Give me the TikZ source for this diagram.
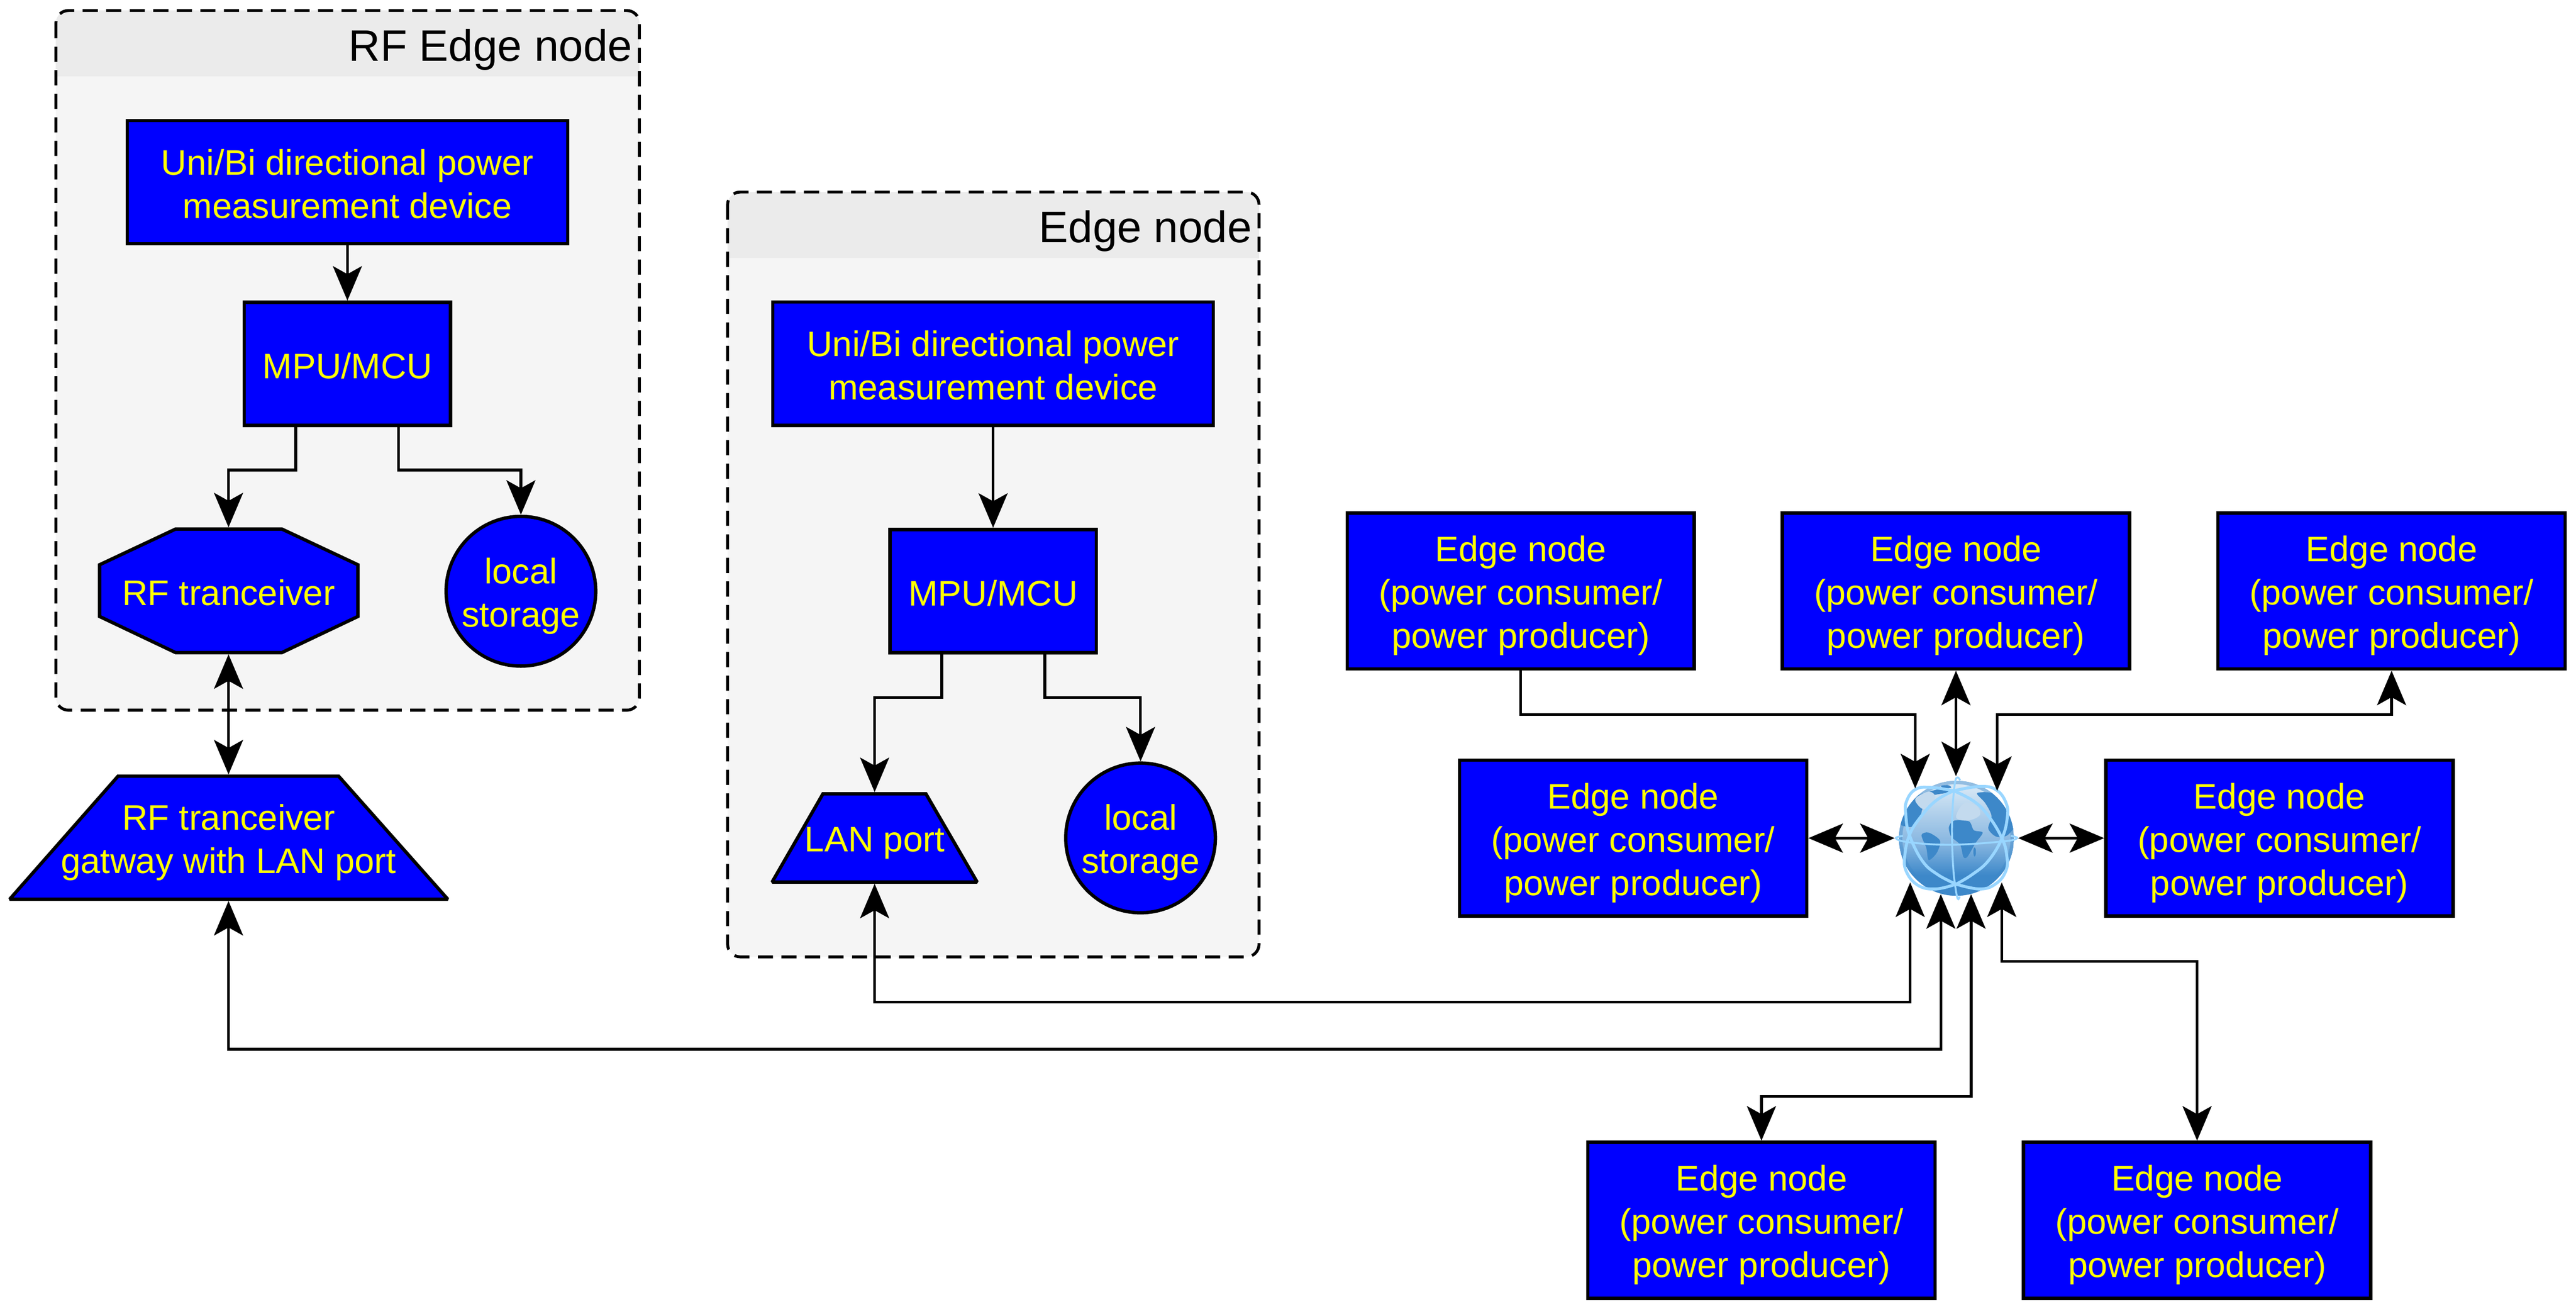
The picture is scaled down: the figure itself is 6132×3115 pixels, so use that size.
\documentclass[tikz,border=0pt]{standalone}
\usepackage{fontspec}
\setmainfont{Liberation Sans}
\usetikzlibrary{arrows.meta,calc}
\definecolor{nodeblue}{RGB}{0,0,255}
\definecolor{nodeyellow}{RGB}{255,255,0}
\definecolor{panelbg}{RGB}{245,245,245}
\definecolor{panelhead}{RGB}{235,235,235}
\definecolor{globering}{RGB}{153,214,255}
\definecolor{globeland}{RGB}{61,136,201}
\definecolor{globepale}{RGB}{195,218,238}
\definecolor{globetop}{RGB}{222,236,247}
\definecolor{globemid}{RGB}{135,182,224}
\newcommand{\st}{\rule[-4pt]{0pt}{27.7pt}}
\newcommand{\edgetext}{\st Edge node\\\st (power consumer/\\\st power producer)}
\newcommand{\meastext}{\st Uni/Bi directional power\\\st measurement device}
\newcommand{\storetext}{\st local\\\st storage}
\tikzset{
  bodyfont/.style={font=\fontsize{24}{29.3}\selectfont},
  box/.style={draw=black,fill=nodeblue,line width=0.08cm,text=nodeyellow,inner sep=0pt,align=center,bodyfont},
  edgebox/.style={box,minimum width=8.26cm,minimum height=3.71cm},
  measbox/.style={box,minimum width=10.48cm,minimum height=2.93cm},
  mpubox/.style={box,minimum width=4.91cm,minimum height=2.93cm},
  storebox/.style={box,circle,minimum size=3.56cm},
  outline/.style={draw=black,fill=nodeblue,line width=0.08cm,miter limit=1.9},
  overlay text/.style={box,draw=none,fill=none},
  wire/.style={line width=0.065cm,draw=black},
  arr/.style={wire,-{Stealth[length=0.82cm,width=0.69cm,inset=0.19cm]}},
  bi/.style={wire,{Stealth[length=0.82cm,width=0.69cm,inset=0.19cm]}-{Stealth[length=0.82cm,width=0.69cm,inset=0.19cm]}},
  panel/.style={draw=black,line width=0.07cm,dash pattern=on 0.36cm off 0.20cm,rounded corners=0.3cm},
  paneltitle/.style={font=\fontsize{29.8}{36}\selectfont,text=black,inner sep=0pt},
  ringthick/.style={draw=globering,line width=0.07cm},
  ringthin/.style={draw=globering,line width=0.045cm},
}
\begin{document}
\begin{tikzpicture}[x=0.01cm,y=-0.01cm]
\useasboundingbox (0,0) rectangle (6132,3115);
\fill[white] (0,0) rectangle (6132,3115);

% panels
\fill[panelbg,rounded corners=0.3cm] (133,25) rectangle (1522,1690);
\fill[panelhead,rounded corners=0.3cm] (133,182) [sharp corners] -- (133,182) [rounded corners=0.3cm] -- (133,25) -- (1522,25) [sharp corners] -- (1522,182) -- cycle;
\draw[panel] (133,25) rectangle (1522,1690);
\node[paneltitle,anchor=base east] (rftitle) at (1506,145) {RF Edge node};

\fill[panelbg,rounded corners=0.3cm] (1732,457) rectangle (2997,2277);
\fill[panelhead,rounded corners=0.3cm] (1732,614) [sharp corners] -- (1732,614) [rounded corners=0.3cm] -- (1732,457) -- (2997,457) [sharp corners] -- (2997,614) -- cycle;
\draw[panel] (1732,457) rectangle (2997,2277);
\node[paneltitle,anchor=base east] (edgetitle) at (2981,577) {Edge node};

% RF edge node contents
\node[measbox] (rfmeas) at (827,433.5) {\meastext};
\node[mpubox] (rfmpu) at (827,866) {\st MPU/MCU};
\draw[outline] (418,1259) -- (671,1259) -- (852,1344) -- (852,1467) -- (671,1553) -- (418,1553) -- (237,1467) -- (237,1344) -- cycle;
\node[overlay text,minimum width=6.15cm,minimum height=2.94cm] (rfoct) at (544,1406) {\st RF tranceiver};
\node[storebox] (rfstore) at (1240,1407) {\storetext};
\draw[outline] (281,1847) -- (806,1847) -- (1066,2140) -- (23,2140) -- cycle;
\node[overlay text,minimum width=10.43cm,minimum height=2.93cm] (gateway) at (544,1993.5) {\st RF tranceiver\\\st gatway with LAN port};

% Edge node contents
\node[measbox] (emeas) at (2364,865.5) {\meastext};
\node[mpubox] (empu) at (2364,1406.5) {\st MPU/MCU};
\draw[outline] (1959,1889) -- (2204,1889) -- (2326,2099) -- (1838,2099) -- cycle;
\node[overlay text,minimum width=4.88cm,minimum height=2.10cm] (lan) at (2082,1994) {\st LAN port};
\node[storebox] (estore) at (2715,1994) {\storetext};

% edge nodes around the globe
\node[edgebox] (et1) at (3620,1406.5) {\edgetext};
\node[edgebox] (et2) at (4656,1406.5) {\edgetext};
\node[edgebox] (et3) at (5693,1406.5) {\edgetext};
\node[edgebox] (em1) at (3887.5,1994.5) {\edgetext};
\node[edgebox] (em2) at (5426,1994.5) {\edgetext};
\node[edgebox] (eb1) at (4193,2904) {\edgetext};
\node[edgebox] (eb2) at (5230,2904) {\edgetext};

% globe
\node[circle,minimum size=2.74cm,inner sep=0pt] (globe) at (4657,1994) {};
\begin{scope}[shift={(4300,1650)},x=0.003827cm,y=-0.003827cm]
  \begin{scope}
    \clip (932,900) circle (357);
    \fill[globeland] (575,543) rectangle (1289,1257);
    \shade[top color=globetop,bottom color=globemid] (575,543) rectangle (1289,930);
    \shade[top color=globemid,bottom color=globeland] (575,930) rectangle (1289,1130);
    \draw[globeland,opacity=0.45,line width=0.16cm] (932,900) circle (357);
    \fill[globeland] plot[smooth cycle,tension=0.5] coordinates {(885,830) (920,790) (1010,795) (1040,850) (1095,865) (1050,930) (1000,1015) (975,1015) (955,940) (900,890)};
    \fill[globeland] (1045,985) ellipse (8 and 28);
    \fill[globeland] plot[smooth cycle,tension=0.5] coordinates {(715,880) (760,865) (830,915) (810,990) (760,1035) (745,960)};
    \fill[globeland] plot[smooth cycle,tension=0.5] coordinates {(640,680) (700,630) (850,590) (880,615) (770,640) (720,720) (705,780) (650,830) (560,800) (590,700)};
    \fill[globeland] plot[smooth cycle,tension=0.5] coordinates {(1060,620) (1160,620) (1240,680) (1300,800) (1250,880) (1180,890) (1130,840) (1150,760) (1110,680)};
    \fill[globeland] plot[smooth cycle,tension=0.5] coordinates {(835,575) (880,570) (900,585) (860,590)};
    \fill[globepale] plot[smooth cycle,tension=0.6] coordinates {(680,650) (760,610) (800,640) (770,690) (730,720) (690,690)};
    \fill[globepale] plot[smooth cycle,tension=0.6] coordinates {(930,770) (960,700) (1000,680) (1060,700) (1080,750) (1040,780) (980,790)};
  \end{scope}
  \draw[ringthick] plot[smooth,tension=0.7] coordinates {(915,605) (780,585) (680,595) (622,670) (618,760) (640,880) (720,1040) (815,1125) (930,1185)};
  \draw[ringthick] plot[smooth,tension=0.7] coordinates {(915,605) (800,670) (700,780) (640,880) (612,1000) (618,1100) (690,1190) (800,1215) (930,1185)};
  \draw[ringthick] plot[smooth,tension=0.7] coordinates {(915,605) (1080,578) (1180,600) (1240,680) (1248,770) (1215,900) (1130,1040) (1030,1125) (930,1185)};
  \draw[ringthick] plot[smooth,tension=0.7] coordinates {(915,605) (1040,670) (1130,760) (1215,900) (1245,1010) (1240,1100) (1180,1180) (1080,1215) (930,1185)};
  \draw[ringthin] plot[smooth,tension=0.7] coordinates {(955,540) (938,522) (922,560) (908,720) (905,900) (912,1080) (925,1200) (940,1275) (952,1262)};
  \draw[ringthin] plot[smooth,tension=0.7] coordinates {(600,885) (556,900) (640,925) (900,940) (1215,920) (1308,900) (1270,885)};
\end{scope}

% free ends at the globe
\coordinate (gT1) at (4559,1876);
\coordinate (gT2) at (4656,1847);
\coordinate (gT3) at (4754,1882);
\coordinate (gL) at (4510,1994.5);
\coordinate (gR) at (4804,1994.5);
\coordinate (gLan) at (4547,2100);
\coordinate (gGw) at (4620,2128);
\coordinate (gB1) at (4692,2128);
\coordinate (gB2) at (4765,2100);

% connectors
\draw[arr] (rfmeas.south) -- (rfmpu.north);
\draw[arr] ($(rfmpu.south)+(-123,0)$) -- ++(0,102) -| (rfoct.north);
\draw[arr] ($(rfmpu.south)+(122,0)$) -- ++(0,102) -| (rfstore.north);
\draw[bi] (rfoct.south) -- (gateway.north);

\draw[arr] (emeas.south) -- (empu.north);
\draw[arr] ($(empu.south)+(-122,0)$) -- ++(0,103) -| (lan.north);
\draw[arr] ($(empu.south)+(123,0)$) -- ++(0,103) -| (estore.north);

\draw[bi] (lan.south) -- (lan.south |- 0,2385) -| (gLan);
\draw[bi] (gateway.south) -- (gateway.south |- 0,2497) -| (gGw);
\draw[bi] (eb1.north) -- (eb1.north |- 0,2609) -| (gB1);
\draw[bi] (eb2.north) -- (eb2.north |- 0,2288) -| (gB2);

\draw[arr] (et1.south) -- (et1.south |- 0,1700) -| (gT1);
\draw[bi] (et2.south) -- (gT2);
\draw[bi] (et3.south) -- (et3.south |- 0,1700) -| (gT3);
\draw[bi] (em1.east) -- (gL);
\draw[bi] (em2.west) -- (gR);
\end{tikzpicture}
\end{document}
